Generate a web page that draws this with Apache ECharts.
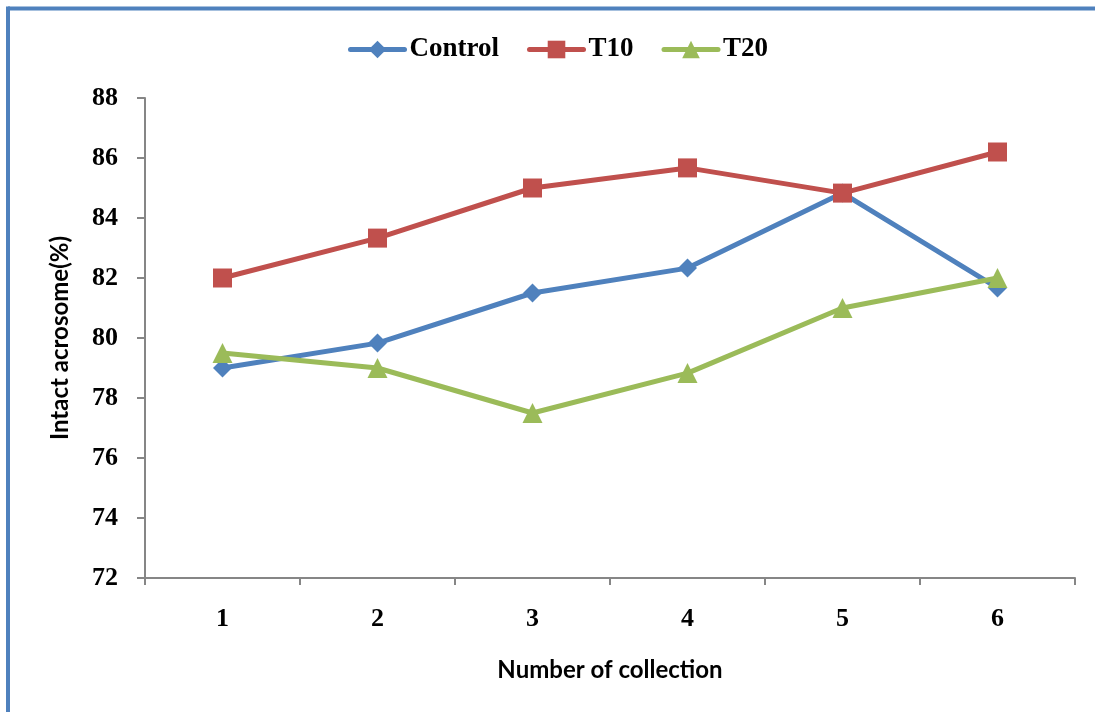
<!DOCTYPE html>
<html>
<head>
<meta charset="utf-8">
<script src="https://cdn.jsdelivr.net/npm/echarts@6/dist/echarts.min.js"></script>
<style>
html,body{margin:0;padding:0;background:#fff;}
#chart{width:1095px;height:712px;}
</style>
</head>
<body>
<div id="chart"></div>
<script>
const categories = ['1', '2', '3', '4', '5', '6'];
const control = [79.0, 79.83, 81.5, 82.33, 84.83, 81.67];
const t10 = [82.0, 83.33, 85.0, 85.67, 84.83, 86.2];
const t20 = [79.5, 79.0, 77.5, 78.83, 81.0, 82.0];
const seriesNames = ['Control', 'T10', 'T20'];
const yTicks = { min: 72, max: 88, interval: 2 };

const colors = ['#4F81BD', '#C0504D', '#9BBB59'];
const serif = '"Liberation Serif", "Times New Roman", serif';
const sans = 'Lato, "Open Sans", sans-serif';

const chart = echarts.init(document.getElementById('chart'), null, { renderer: 'canvas' });

function mkSeries(name, data, symbol, size, color) {
  return {
    name: name, type: 'line', data: data,
    symbol: symbol, symbolSize: size, showSymbol: true,
    lineStyle: { width: 5, color: color, cap: 'round', join: 'round' },
    itemStyle: { color: color },
    animation: false,
    z: 2
  };
}

chart.setOption({
  animation: false,
  color: colors,
  graphic: [
    { type: 'line', shape: { x1: 8, y1: 8.5, x2: 1095, y2: 8.5 }, style: { stroke: '#4F81BD', lineWidth: 4 } },
    { type: 'line', shape: { x1: 8, y1: 6.5, x2: 8, y2: 712 }, style: { stroke: '#4F81BD', lineWidth: 4 } }
  ],
  legend: {
    top: 31, left: 343,
    itemWidth: 54, itemHeight: 22, itemGap: 28,
    lineStyle: { width: 5 },
    textStyle: { fontFamily: serif, fontWeight: 'bold', fontSize: 27, color: '#000' },
    data: seriesNames
  },
  grid: { left: 145, right: 20, top: 98, bottom: 134, containLabel: false },
  xAxis: {
    type: 'category', data: categories, boundaryGap: true,
    name: 'Number of collection', nameLocation: 'middle', nameGap: 80,
    nameTextStyle: { fontFamily: sans, fontWeight: 'bold', fontSize: 24, color: '#000' },
    axisLine: { lineStyle: { color: '#868686', width: 2 } },
    axisTick: { show: true, length: 7, lineStyle: { color: '#868686', width: 2 } },
    axisLabel: { fontFamily: serif, fontWeight: 'bold', fontSize: 26, color: '#000', margin: 28 },
    splitLine: { show: false }
  },
  yAxis: {
    type: 'value', min: yTicks.min, max: yTicks.max, interval: yTicks.interval,
    name: 'Intact acrosome(%)', nameLocation: 'middle', nameGap: 73, nameRotate: 90,
    nameTextStyle: { fontFamily: sans, fontWeight: 'bold', fontSize: 24, color: '#000' },
    axisLine: { show: true, lineStyle: { color: '#868686', width: 2 } },
    axisTick: { show: true, length: 8, lineStyle: { color: '#868686', width: 2 } },
    axisLabel: { fontFamily: serif, fontWeight: 'bold', fontSize: 26, color: '#000', margin: 27 },
    splitLine: { show: false }
  },
  series: [
    mkSeries(seriesNames[0], control, 'diamond', [19, 19], colors[0]),
    mkSeries(seriesNames[1], t10, 'rect', 19, colors[1]),
    mkSeries(seriesNames[2], t20, 'triangle', 20, colors[2])
  ]
});
</script>
</body>
</html>
